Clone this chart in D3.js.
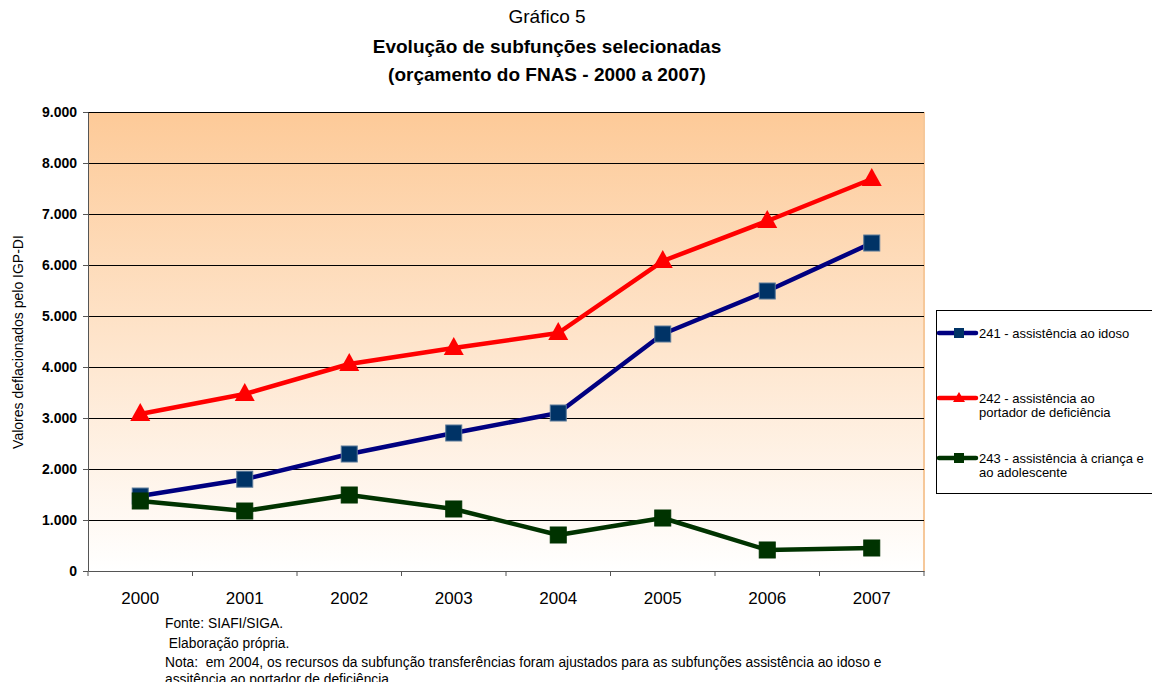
<!DOCTYPE html>
<html lang="pt">
<head>
<meta charset="UTF-8" />
<title>Gráfico 5</title>
<script src="https://d3js.org/d3.v7.min.js"></script>
<style>
  body { margin: 0; background: #fff; font-family: 'Liberation Sans', Arial, sans-serif; }
  svg text { font-family: 'Liberation Sans', Arial, sans-serif; }
</style>
</head>
<body>
<div id="chart"></div>
<script>
const years = ["2000", "2001", "2002", "2003", "2004", "2005", "2006", "2007"];
const idoso = [1470, 1800, 2294, 2706, 3098, 4647, 5490, 6431];
const deficiencia = [3078, 3470, 4059, 4373, 4667, 6078, 6863, 7686];
const crianca = [1373, 1176, 1490, 1216, 706, 1039, 412, 451];
const yTicks = [0, 1000, 2000, 3000, 4000, 5000, 6000, 7000, 8000, 9000];

const series = [
  { name: ["241 - assistência ao idoso"], values: idoso, line: "#000080", fill: "#003366", marker: "square" },
  { name: ["242 - assistência ao", "portador de deficiência"], values: deficiencia, line: "#ff0000", fill: "#ff0000", marker: "triangle" },
  { name: ["243 - assistência à criança e", "ao adolescente"], values: crianca, line: "#003300", fill: "#003300", marker: "square" }
];

const W = 1152, H = 682;
const margin = { top: 112, left: 88, right: 228, bottom: 111 };
const width = W - margin.left - margin.right;
const height = H - margin.top - margin.bottom;

const svg = d3.select("#chart").append("svg")
  .attr("width", W).attr("height", H);

// titulo
svg.append("text").attr("x", 547).attr("y", 23).attr("text-anchor", "middle")
  .style("font-size", "19px").text("Gráfico 5");
svg.append("text").attr("x", 547).attr("y", 53).attr("text-anchor", "middle")
  .style("font-size", "19px").style("font-weight", "bold").text("Evolução de subfunções selecionadas");
svg.append("text").attr("x", 547).attr("y", 81).attr("text-anchor", "middle")
  .style("font-size", "19px").style("font-weight", "bold").text("(orçamento do FNAS - 2000 a 2007)");

const defs = svg.append("defs");
const grad = defs.append("linearGradient").attr("id", "bg")
  .attr("x1", 0).attr("y1", 0).attr("x2", 0).attr("y2", 1);
grad.append("stop").attr("offset", "0%").attr("stop-color", "#fdca98");
grad.append("stop").attr("offset", "100%").attr("stop-color", "#ffffff");

const g = svg.append("g").attr("transform", `translate(${margin.left},${margin.top})`);

const x = d3.scaleBand().domain(years).range([0, width]);
const y = d3.scaleLinear().domain([0, 9000]).range([height, 0]);

g.append("rect").attr("width", width).attr("height", height).attr("fill", "url(#bg)");
g.append("line").attr("x1", width).attr("x2", width).attr("y1", 0).attr("y2", height)
  .attr("stroke", "#f6c89a").attr("stroke-width", 2);

// grade
g.append("g").selectAll("line").data(yTicks.filter(d => d > 0)).join("line")
  .attr("x1", 0).attr("x2", width)
  .attr("y1", d => Math.round(y(d)) + 0.5).attr("y2", d => Math.round(y(d)) + 0.5)
  .attr("stroke", "#000").attr("stroke-width", 1);

// eixo y
const yAxis = g.append("g")
  .call(d3.axisLeft(y).tickValues(yTicks).tickSize(5).tickSizeOuter(0)
    .tickFormat(d => d3.format(",")(d).replace(/,/g, ".")));
yAxis.select(".domain").attr("stroke", "#555");
yAxis.selectAll(".tick line").attr("stroke", "#555");
yAxis.selectAll("text").style("font-size", "14px").style("font-weight", "bold").attr("x", -11);

// eixo x
const xAxis = g.append("g").attr("transform", `translate(0,${height})`)
  .call(d3.axisBottom(x).tickSize(0).tickSizeOuter(0));
xAxis.select(".domain").attr("stroke", "#555");
xAxis.selectAll("text").style("font-size", "17px").attr("dy", "1.75em");
g.append("g").attr("transform", `translate(0,${height})`).selectAll("line")
  .data(years.concat(["end"])).join("line")
  .attr("x1", (d, i) => i * x.bandwidth()).attr("x2", (d, i) => i * x.bandwidth())
  .attr("y1", 0).attr("y2", 5).attr("stroke", "#555");

svg.append("text")
  .attr("transform", `translate(23,342) rotate(-90)`)
  .attr("text-anchor", "middle").style("font-size", "14px")
  .text("Valores deflacionados pelo IGP-DI");

const line = d3.line().x((d, i) => x(years[i]) + x.bandwidth() / 2).y(d => y(d));

function marker(sel, s, cx, cy) {
  if (s.marker === "square") {
    sel.append("rect").attr("x", cx - 8).attr("y", cy - 8).attr("width", 16).attr("height", 16)
      .attr("fill", s.fill).attr("stroke", s.fill === "#003366" ? "#5a7a9a" : s.fill).attr("stroke-width", 1);
  } else {
    sel.append("path")
      .attr("d", `M${cx},${cy - 11}L${cx + 10},${cy + 7}L${cx - 10},${cy + 7}Z`)
      .attr("fill", s.fill);
  }
}

series.forEach(s => {
  g.append("path").datum(s.values).attr("d", line)
    .attr("fill", "none").attr("stroke", s.line).attr("stroke-width", 4.5)
    .attr("stroke-linejoin", "round");
  const mg = g.append("g");
  s.values.forEach((v, i) => marker(mg, s, x(years[i]) + x.bandwidth() / 2, y(v)));
});

// legenda
const leg = svg.append("g");
leg.append("rect").attr("x", 936.5).attr("y", 310.5).attr("width", 230).attr("height", 183)
  .attr("fill", "#fff").attr("stroke", "#000");
const legY = [333, 398, 458];
series.forEach((s, i) => {
  const ly = legY[i];
  leg.append("line").attr("x1", 939).attr("x2", 976).attr("y1", ly).attr("y2", ly)
    .attr("stroke", s.line).attr("stroke-width", 4.5).attr("stroke-linecap", "round");
  if (s.marker === "square") {
    leg.append("rect").attr("x", 954).attr("y", ly - 5).attr("width", 10).attr("height", 10).attr("fill", s.fill);
  } else {
    leg.append("path").attr("d", `M959,${ly - 6}L965,${ly + 4}L953,${ly + 4}Z`).attr("fill", s.fill);
  }
  s.name.forEach((t, k) => {
    leg.append("text").attr("x", 979).attr("y", ly + 5 + k * 14).style("font-size", "13px").text(t);
  });
});

// notas
const notes = [
  ["Fonte: SIAFI/SIGA.", 165, 628],
  [" Elaboração própria.", 165, 648],
  ["Nota:  em 2004, os recursos da subfunção transferências foram ajustados para as subfunções assistência ao idoso e", 165, 667],
  ["assitência ao portador de deficiência", 165, 684]
];
svg.append("g").selectAll("text").data(notes).join("text")
  .attr("x", d => d[1]).attr("y", d => d[2])
  .style("font-size", "13.8px").style("white-space", "pre").text(d => d[0]);
</script>
</body>
</html>
